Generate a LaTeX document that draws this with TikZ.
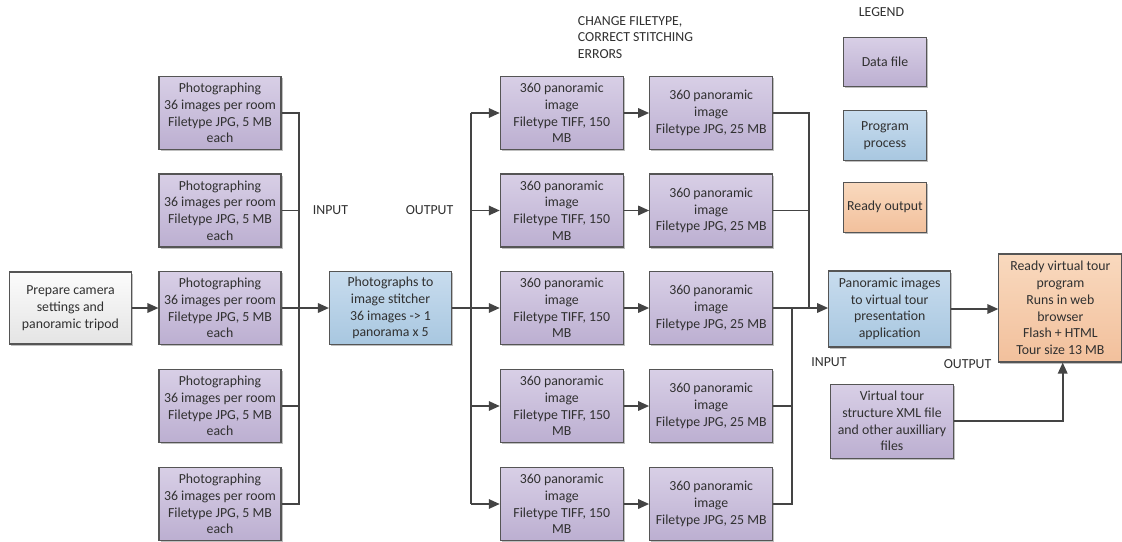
\documentclass[tikz,border=0pt]{standalone}
\usepackage{fontspec}
\setmainfont{Carlito}
\usetikzlibrary{arrows.meta,shadows}
\definecolor{lnc}{HTML}{444444}
\definecolor{bdc}{HTML}{555555}
\definecolor{txc}{HTML}{303030}
\definecolor{pT}{HTML}{D8CFE6}
\definecolor{pB}{HTML}{BCAFD1}
\definecolor{bT}{HTML}{C8DCEE}
\definecolor{bB}{HTML}{A8C7E0}
\definecolor{oT}{HTML}{F9D9BE}
\definecolor{oB}{HTML}{F2C09C}
\definecolor{gT}{HTML}{FCFCFC}
\definecolor{gB}{HTML}{E4E4E4}
\tikzset{
  basebox/.style={draw=bdc, line width=1.1pt, align=center, inner sep=0pt,
    text=txc, font=\fontsize{13.8}{16.7}\selectfont,
    drop shadow={shadow xshift=1.5pt, shadow yshift=-1.5pt, opacity=0.25, fill=black}},
  databox/.style={basebox, top color=pT, bottom color=pB, minimum width=122pt, minimum height=73pt},
  procbox/.style={basebox, top color=bT, bottom color=bB, minimum width=122pt, minimum height=73pt},
  outbox/.style={basebox, top color=oT, bottom color=oB, minimum width=122pt, minimum height=73pt},
  greybox/.style={basebox, top color=gT, bottom color=gB, minimum width=122pt, minimum height=72pt},
  lbl/.style={text=txc, font=\fontsize{13.8}{16.7}\selectfont, inner sep=0pt},
  conn/.style={draw=lnc, line width=1.7pt},
  arr/.style={conn, -{Triangle[length=11pt,width=9.5pt]}}
}
\begin{document}
\begin{tikzpicture}[x=1pt,y=-1pt]
\useasboundingbox (0,0) rectangle (1122,541);
% left column
\node[greybox] (prep) at (70.5,308) {Prepare camera\\settings and\\panoramic tripod};
\foreach \i/\yy in {1/113,2/210.5,3/308,4/406,5/504}{
  \node[databox] (ph\i) at (220,\yy) {Photographing\\36 images per room\\Filetype JPG, 5 MB\\each};
}
\node[procbox] (st) at (390.5,308) {Photographs to\\image stitcher\\36 images -> 1\\panorama x 5};
\foreach \i/\yy in {1/113,2/210.5,3/308,4/406,5/504}{
  \node[databox, minimum width=123pt] (ti\i) at (561.8,\yy) {360 panoramic\\image\\Filetype TIFF, 150\\MB};
  \node[databox, minimum width=123pt] (jp\i) at (711.2,\yy) {360 panoramic\\image\\Filetype JPG, 25 MB};
}
\node[procbox, minimum height=76pt] (app) at (889.7,309) {Panoramic images\\to virtual tour\\presentation\\application};
\node[outbox, minimum height=108pt, minimum width=123pt] (rdy) at (1060.4,308) {Ready virtual tour\\program\\Runs in web\\browser\\Flash + HTML\\Tour size 13 MB};
\node[databox, minimum height=74pt, minimum width=123pt] (xml) at (892,421.2) {Virtual tour\\structure XML file\\and other auxilliary\\files};
% legend
\node[lbl] (leg) at (881.5,12) {LEGEND};
\node[databox, minimum width=83pt, minimum height=49pt] (lg1) at (885,62) {Data file};
\node[procbox, minimum width=83pt, minimum height=50pt] (lg2) at (885,135.5) {Program\\process};
\node[outbox, minimum width=83pt, minimum height=50pt] (lg3) at (885,207.3) {Ready output};
% labels
\node[lbl] (in1) at (330.5,210.5) {INPUT};
\node[lbl] (out1) at (429.5,210.5) {OUTPUT};
\node[lbl] (in2) at (829,362) {INPUT};
\node[lbl] (out2) at (967.5,364) {OUTPUT};
\node[lbl, anchor=west, align=left] (chg) at (577.7,37.3) {CHANGE FILETYPE,\\CORRECT STITCHING\\ERRORS};
% bus coordinates
\coordinate (busA1) at (299.3,113);
\coordinate (busA5) at (299.3,504);
\coordinate (busB1) at (470.7,113);
\coordinate (busB5) at (470.7,504);
\coordinate (busC1) at (809,113);
\coordinate (busC3) at (809,308);
\coordinate (busD5) at (791.7,504);
\coordinate (busD3) at (791.7,308);
% connectors
\draw[arr] (prep) -- (ph3);
\draw[conn] (ph1.east) -- (busA1) -- (busA5) -- (ph5.east);
\draw[conn] (ph2.east) -- (ph2.east -| busA1);
\draw[conn] (ph4.east) -- (ph4.east -| busA1);
\draw[arr] (ph3) -- (st);
\draw[conn] (st.east) -- (st.east -| busB1);
\draw[conn] (busB1) -- (busB5);
\foreach \i in {1,...,5}{
  \draw[arr] (ti\i.west -| busB1) -- (ti\i.west);
  \draw[arr] (ti\i) -- (jp\i);
}
\draw[conn] (jp1.east) -- (busC1) -- (busC3);
\draw[conn] (jp2.east) -- (jp2.east -| busC1);
\draw[conn] (jp5.east) -- (busD5) -- (busD3);
\draw[conn] (jp4.east) -- (jp4.east -| busD5);
\draw[arr] (jp3.east) -- (jp3.east -| app.west);
\draw[arr] (app.east) -- (app.east -| rdy.west);
\draw[arr] (xml.east) -| ([xshift=2.3pt]rdy.south);
\end{tikzpicture}
\end{document}
